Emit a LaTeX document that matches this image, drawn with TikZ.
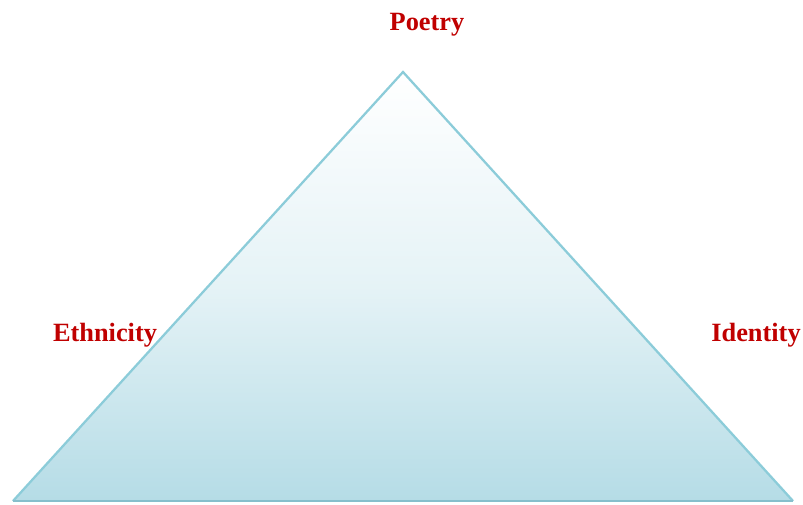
\documentclass[tikz,border=0pt]{standalone}
\usepackage{fontspec}
\setmainfont{Liberation Serif}
\begin{document}
\begin{tikzpicture}[x=1cm,y=1cm,font=\rmfamily\bfseries\fontsize{15}{17}\selectfont]
  \definecolor{edge}{HTML}{8CCCD9}
  \definecolor{deep}{HTML}{B5DCE6}
  \definecolor{baseedge}{HTML}{86BFCC}
  \definecolor{label}{HTML}{C00000}
  \tikzset{corner label/.style={text=label,inner sep=1pt}}
  \coordinate (apex) at (8.06,8.64);
  \coordinate (baseL) at (0.26,0.06);
  \coordinate (baseR) at (15.86,0.06);
  \shade[top color=white,bottom color=deep,middle color=deep!35] (apex)--(baseL)--(baseR)--cycle;
  \draw[edge,line width=1.3pt,line join=miter] (baseR)--(apex)--(baseL);
  \draw[baseedge,line width=1.5pt] (baseL)--(baseR);
  \node[corner label] (poetry) at (8.54,9.59) {Poetry};
  \node[corner label] (ethnicity) at (2.10,3.38) {Ethnicity};
  \node[corner label] (identity) at (15.12,3.38) {Identity};
  \path[use as bounding box] (0,0) rectangle (16.06,10.08);
\end{tikzpicture}
\end{document}
